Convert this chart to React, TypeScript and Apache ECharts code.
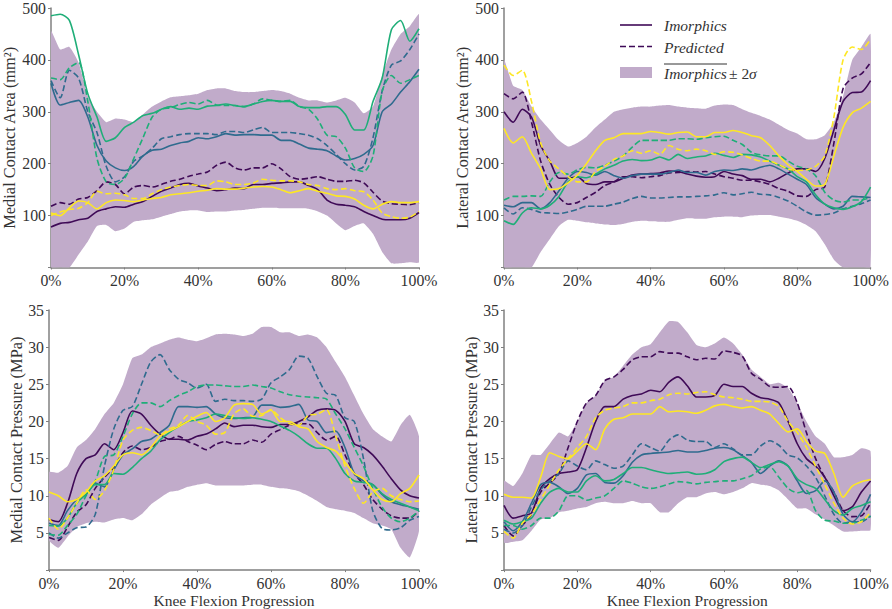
import { useEffect, useRef } from "react";
import * as echarts from "echarts";

const FONT = "Liberation Serif";
const PURPLE = "#3f0a57";
const BLUE = "#2f6b8e";
const GREEN = "#1fae78";
const YELLOW = "#fde725";
const BAND = "#c1abca";
const AXIS = "#808080";
const TEXT = "#333333";

// progress positions, every 2.5%
const progress = [0, 2.5, 5, 7.5, 10, 12.5, 15, 17.5, 20, 22.5, 25, 27.5, 30, 32.5, 35, 37.5, 40, 42.5, 45, 47.5, 50, 52.5, 55, 57.5, 60, 62.5, 65, 67.5, 70, 72.5, 75, 77.5, 80, 82.5, 85, 87.5, 90, 92.5, 95, 97.5, 100];

// medial contact area
const maUpper = [455, 420, 425, 395, 330, 300, 280, 287, 285, 280, 295, 310, 320, 328, 330, 332, 335, 342, 345, 345, 340, 338, 338, 340, 342, 340, 335, 327, 322, 322, 318, 322, 327, 318, 297, 310, 370, 420, 450, 465, 488];
const maLower = [0, 0, 0, 25, 50, 80, 82, 70, 75, 88, 91, 93, 98, 103, 108, 110, 110, 107, 108, 108, 110, 111, 113, 115, 115, 114, 114, 114, 113, 108, 100, 85, 72, 80, 85, 65, 30, 8, 8, 10, 10];
const maPurple = [78, 85, 87, 92, 95, 108, 113, 117, 116, 122, 127, 137, 147, 153, 160, 162, 157, 153, 148, 150, 153, 152, 160, 160, 162, 163, 165, 165, 158, 150, 130, 122, 120, 117, 108, 100, 93, 92, 92, 95, 106];
const maPurplePred = [118, 125, 122, 132, 135, 148, 165, 160, 142, 155, 158, 155, 160, 166, 170, 176, 180, 184, 197, 203, 192, 188, 192, 192, 200, 190, 175, 170, 172, 175, 170, 166, 166, 168, 163, 145, 128, 123, 122, 121, 125];
const maBlue = [355, 313, 318, 322, 290, 235, 205, 192, 187, 195, 215, 226, 228, 235, 240, 243, 250, 248, 252, 258, 255, 256, 256, 255, 255, 245, 245, 238, 230, 228, 225, 215, 207, 210, 218, 235, 300, 315, 338, 358, 382];
const maBluePred = [360, 327, 380, 365, 300, 260, 195, 165, 175, 205, 215, 230, 248, 252, 256, 258, 258, 258, 256, 262, 262, 260, 265, 270, 260, 260, 260, 258, 255, 248, 235, 218, 200, 188, 195, 250, 340, 390, 398, 420, 450];
const maGreen = [485, 488, 476, 410, 335, 290, 243, 250, 270, 280, 293, 297, 305, 310, 305, 307, 305, 311, 312, 315, 312, 310, 315, 320, 322, 320, 320, 310, 308, 308, 310, 310, 295, 265, 265, 320, 365, 458, 476, 436, 460];
const maGreenPred = [365, 362, 385, 395, 320, 210, 165, 160, 172, 210, 250, 290, 305, 308, 314, 318, 315, 322, 313, 312, 312, 310, 315, 325, 322, 320, 322, 310, 305, 285, 255, 252, 230, 192, 185, 215, 340, 370, 355, 362, 370];
const maYellow = [105, 100, 115, 128, 125, 113, 125, 130, 129, 127, 130, 133, 135, 140, 142, 144, 147, 149, 152, 151, 151, 153, 155, 156, 155, 150, 144, 148, 152, 147, 143, 138, 137, 132, 120, 113, 122, 127, 125, 125, 127];
const maYellowPred = [100, 107, 112, 114, 125, 147, 142, 143, 140, 133, 133, 142, 150, 155, 158, 160, 158, 158, 167, 165, 160, 160, 163, 170, 168, 167, 167, 165, 160, 158, 152, 150, 152, 148, 146, 130, 105, 98, 95, 97, 108];

// lateral contact area
const laUpper = [400, 350, 342, 310, 285, 265, 245, 233, 240, 252, 270, 285, 300, 305, 308, 310, 310, 312, 313, 310, 308, 307, 306, 312, 314, 313, 305, 298, 292, 285, 275, 265, 258, 247, 247, 255, 280, 330, 400, 425, 450];
const laLower = [0, 0, 0, 0, 30, 55, 80, 92, 90, 87, 85, 83, 82, 84, 88, 90, 89, 88, 88, 92, 95, 94, 94, 97, 98, 98, 97, 100, 101, 101, 98, 95, 90, 82, 70, 45, 15, 0, 0, 0, 0];
const laPurple = [300, 280, 305, 290, 235, 205, 172, 172, 175, 162, 160, 165, 165, 172, 178, 180, 181, 182, 186, 185, 180, 176, 174, 175, 185, 180, 177, 170, 170, 165, 172, 182, 190, 190, 185, 210, 265, 320, 337, 338, 360];
const laPurplePred = [335, 325, 338, 280, 205, 160, 135, 122, 125, 135, 145, 158, 165, 175, 175, 173, 175, 177, 182, 183, 185, 184, 185, 180, 175, 172, 168, 168, 165, 160, 152, 147, 138, 137, 150, 155, 240, 345, 365, 373, 395];
const laBlue = [120, 117, 125, 125, 113, 125, 148, 172, 185, 183, 178, 185, 177, 172, 177, 180, 180, 180, 183, 188, 183, 183, 178, 185, 188, 187, 190, 188, 193, 197, 190, 180, 170, 160, 135, 122, 113, 118, 137, 136, 135];
const laBluePred = [115, 103, 115, 112, 106, 105, 104, 107, 112, 118, 118, 118, 122, 126, 133, 137, 134, 134, 135, 136, 136, 137, 138, 140, 144, 140, 142, 145, 141, 140, 135, 128, 118, 107, 101, 102, 105, 113, 118, 123, 130];
const laGreen = [90, 83, 105, 115, 113, 120, 137, 165, 175, 173, 180, 190, 197, 205, 208, 206, 207, 213, 207, 218, 210, 213, 215, 220, 216, 212, 218, 217, 213, 205, 197, 190, 175, 165, 140, 122, 115, 112, 117, 127, 155];
const laGreenPred = [130, 137, 137, 138, 137, 165, 183, 180, 188, 193, 192, 197, 205, 215, 232, 245, 245, 245, 245, 248, 248, 247, 250, 252, 253, 245, 237, 222, 217, 215, 215, 205, 195, 190, 177, 145, 130, 126, 130, 130, 135];
const laYellow = [268, 240, 252, 220, 190, 150, 152, 163, 178, 200, 225, 245, 250, 258, 258, 258, 262, 260, 257, 260, 261, 252, 252, 260, 260, 264, 260, 254, 250, 235, 215, 198, 185, 170, 157, 160, 215, 270, 298, 307, 320];
const laYellowPred = [390, 370, 380, 320, 240, 205, 190, 175, 165, 165, 185, 195, 208, 215, 225, 220, 225, 218, 235, 228, 225, 228, 225, 218, 223, 222, 217, 210, 205, 205, 198, 190, 187, 188, 195, 215, 290, 400, 425, 420, 440];

// medial contact pressure
const mpUpper = [13.2, 13.1, 14, 16.5, 17.5, 19, 21, 22.5, 25, 28.5, 29, 30, 30.5, 31, 31.3, 31, 30.8, 31.2, 31.7, 31.8, 31.7, 31.5, 31.8, 32.7, 32.7, 32, 32, 31.5, 31.7, 31.3, 30, 28, 26, 23.5, 21, 19, 18, 17.3, 19.5, 20.9, 18];
const mpLower = [4, 3, 4.5, 5.8, 6.3, 6.5, 6.4, 6.8, 7, 6.7, 7.5, 8.8, 9.7, 10.5, 10.7, 11.2, 11.5, 11.7, 11.4, 11.4, 11.4, 11.4, 11.5, 11.5, 11.2, 11, 10.9, 10.6, 10, 9.3, 8.5, 8.2, 8, 7.7, 7, 6.3, 6, 5.5, 3, 1.7, 5.3];
const mpPurple = [6.8, 6.5, 9, 13, 15, 15.5, 17, 16.2, 18.5, 21.4, 21, 19.5, 18.3, 17.6, 17.6, 17.5, 18, 18.3, 19, 19.8, 19.3, 19.5, 19.5, 19.3, 19.2, 19.6, 19.6, 20, 20.6, 21.5, 21.7, 21.5, 20, 17, 16.5, 15.5, 14, 12.3, 10.8, 10, 9.7];
const mpPurplePred = [4.4, 4, 5.8, 7.8, 8.8, 11, 12.5, 13.8, 15.8, 16.7, 16.2, 16.5, 17.3, 17.6, 18, 17.3, 16.8, 16.2, 16.9, 17.3, 17, 17, 17.5, 17.2, 18.3, 18.9, 19.5, 19.7, 19.7, 18.5, 17.5, 18, 15.5, 13, 11.5, 9.5, 8.2, 7.3, 7, 7, 8];
const mpBlue = [6.3, 6, 8, 9.5, 10.2, 11.7, 11.2, 13.5, 15.5, 16.3, 17.3, 17.6, 18.5, 19.5, 22, 22, 21.9, 22, 21, 20.5, 20.4, 20.5, 20.6, 22.2, 22.2, 21.9, 22, 22.3, 20.2, 20, 18.5, 18.7, 16.5, 13, 12, 11.5, 10.2, 9.2, 8.8, 8.5, 8.2];
const mpBluePred = [5, 4.3, 5, 5.7, 5.8, 7.5, 14, 19, 21.5, 22, 25, 28, 29, 27, 25.7, 25.2, 24.5, 25, 22.7, 23, 22.8, 22.8, 22.7, 23, 25.2, 26, 27, 28.8, 28.5, 26, 23.8, 23.5, 20.5, 20, 15, 8, 5.6, 5.4, 5.7, 6.7, 7.2];
const mpGreen = [6, 5.9, 7, 9, 10.2, 11.5, 11.5, 13, 12.9, 13.8, 15, 16, 17.5, 18.5, 19.3, 20, 20.2, 20.5, 21, 20.8, 20.5, 20.4, 20.5, 20.3, 20, 19.4, 18.8, 18, 17, 16.4, 16.4, 15, 13, 12, 11.8, 11.5, 10.3, 9.5, 9, 8.5, 8];
const mpGreenPred = [4.8, 4.7, 6, 7.5, 10, 12, 15.3, 15.5, 18, 21, 22.5, 22.5, 22, 22.8, 23.5, 24, 24.7, 24.9, 24.9, 24.8, 24.7, 24.7, 24.9, 24.7, 24.5, 24, 23.6, 23.4, 23.3, 23.2, 23, 21, 19, 16.5, 14, 11, 8.5, 7, 6.5, 7, 8];
const mpYellow = [10.5, 10, 9.2, 9.5, 10.5, 12, 12.7, 14, 15.5, 15.8, 15.5, 16.5, 18, 18.7, 19.3, 20, 20.7, 21.2, 20, 20.5, 22.2, 22.4, 22.3, 21, 21.5, 20, 20, 19.3, 19, 17.3, 16.5, 16, 14.5, 13, 12.3, 10.8, 9.5, 9.2, 10.3, 11, 12.8];
const mpYellowPred = [7, 5.5, 7, 9, 10.8, 9.5, 10.7, 13.5, 17.5, 18.8, 19.2, 18.8, 18.2, 19, 19.5, 20.8, 20, 19.5, 18.3, 18.5, 21, 21.7, 20.7, 20.8, 21.6, 20.5, 19.7, 19.5, 20.8, 21, 21.6, 18, 14, 11, 9, 10.5, 11, 10, 9.5, 9.2, 9.3];

// lateral contact pressure
const lpUpper = [12, 11.3, 13, 15.5, 15.5, 17, 18.5, 18, 20, 22.5, 23.5, 25.5, 26, 27.5, 29, 30, 30.4, 32, 33.5, 33.4, 32, 30.3, 30, 30.5, 31.3, 30.5, 29, 27, 26, 25, 25.2, 24.5, 22.5, 20, 18, 17, 15.2, 15.2, 15.5, 16.4, 16];
const lpLower = [3.7, 3.8, 4, 5.3, 6.8, 7, 7.8, 8, 8.3, 8.5, 9, 9.2, 9, 9, 9.3, 9, 9, 7.8, 7.8, 9, 9.8, 9.8, 10.3, 10.5, 10.2, 10.5, 11, 11.7, 11.5, 11.3, 10.7, 9.5, 8.3, 8.3, 7.5, 6.8, 6, 5.2, 5.2, 5.3, 5.4];
const lpPurple = [8.7, 7, 7.3, 7.7, 11, 12.3, 13, 13.2, 13.5, 16.5, 20, 22, 22, 23, 23.5, 23.7, 24.2, 24, 25.3, 26, 24.8, 23.3, 23.3, 23.5, 25, 24.7, 24.7, 23.8, 23.2, 23, 22.5, 20, 17, 15, 14, 12.5, 10, 8, 8.5, 10.5, 12];
const lpPurplePred = [6, 4.6, 6, 7.5, 10.5, 11.7, 13, 16.5, 20, 22.5, 23.5, 25.5, 26, 27, 28.3, 28.7, 28.7, 29.4, 29.2, 29.2, 28.7, 28.3, 28.5, 28.4, 29.5, 29.3, 28.8, 26.5, 25.7, 24.7, 24.6, 24.7, 22.5, 18.5, 15, 12.5, 10.5, 8, 7.2, 7.3, 9];
const lpBlue = [6.5, 5.3, 6.5, 9, 11.5, 11.8, 11.2, 10.3, 11, 12.8, 13, 11.8, 11.7, 12.7, 14.5, 15.5, 15.7, 15.8, 15.9, 16.1, 15.9, 15.9, 16.1, 16.4, 16.5, 16.2, 15.4, 14.5, 13, 14, 14.7, 14, 12, 10.3, 10.7, 12, 10.5, 7.5, 6.5, 7.8, 10.2];
const lpBluePred = [5.5, 5, 6, 8.5, 10.8, 12, 13, 14.7, 14, 13.5, 14.7, 14.2, 13.7, 14, 15.5, 17, 16.5, 16, 17.5, 18.2, 17.5, 17.3, 17.3, 16.5, 17, 16.3, 15.5, 15.5, 16.7, 17.4, 16.8, 15.5, 15.1, 14, 12.5, 10, 7.5, 6.3, 6.5, 6.5, 7.3];
const lpGreen = [6.7, 6.2, 6.5, 7, 9, 10.5, 11, 10.5, 10.5, 12, 12.7, 12, 12.2, 13, 13.8, 13.8, 13.5, 13.2, 13, 13.1, 13.2, 12.9, 13, 13.5, 14.6, 15, 15.2, 14.5, 13.8, 14.2, 14.6, 14, 12.3, 11.5, 11, 9.5, 8, 7.4, 8.3, 8.7, 9.2];
const lpGreenPred = [6, 6, 5.5, 6, 7, 7, 8, 10, 10, 9.4, 9.7, 10, 11, 12, 11.7, 11.2, 11, 11.2, 11.6, 11.9, 11.8, 11.6, 11.8, 11.9, 12, 12, 12.3, 12.7, 13.6, 13.9, 12.5, 11, 10.4, 10.7, 8, 6.7, 6.6, 6.3, 6.3, 6.7, 7.2];
const lpYellow = [10.2, 9.8, 9.8, 9.7, 12.5, 15.8, 15.3, 15, 16, 17, 16.2, 19, 20.3, 20.5, 21, 21, 21, 22, 21.3, 21.4, 21.3, 21.1, 21.5, 22.1, 22.3, 22, 21.8, 22, 21.5, 21, 19.7, 18.6, 19, 17.3, 16, 15.7, 13, 9.8, 11.3, 11.9, 12.2];
const lpYellowPred = [5.2, 4.3, 6.3, 7.5, 9.5, 11.5, 13.5, 15, 16.5, 18, 20.5, 21.5, 21.8, 22, 22.5, 22.5, 22.8, 23, 23.6, 23.8, 23.7, 23.9, 24, 23.6, 23.3, 23.2, 23, 22.7, 22.7, 22.6, 22, 20, 18.5, 16.5, 14, 11.5, 9, 7, 6.2, 6.5, 7.8];

const panels = [
  { name: "Medial Contact Area (mm²)", max: 500, step: 100, left: 49, top: 5, gap: 34, band: [maUpper, maLower], lines: [[maPurple, maPurplePred], [maBlue, maBluePred], [maGreen, maGreenPred], [maYellow, maYellowPred]] },
  { name: "Lateral Contact Area (mm²)", max: 500, step: 100, left: 504, top: 5, gap: 34, band: [laUpper, laLower], lines: [[laPurple, laPurplePred], [laBlue, laBluePred], [laGreen, laGreenPred], [laYellow, laYellowPred]] },
  { name: "Medial Contact Pressure (MPa)", max: 35, step: 5, left: 49, top: 310, gap: 25, band: [mpUpper, mpLower], lines: [[mpPurple, mpPurplePred], [mpBlue, mpBluePred], [mpGreen, mpGreenPred], [mpYellow, mpYellowPred]] },
  { name: "Lateral Contact Pressure (MPa)", max: 35, step: 5, left: 504, top: 310, gap: 25, band: [lpUpper, lpLower], lines: [[lpPurple, lpPurplePred], [lpBlue, lpBluePred], [lpGreen, lpGreenPred], [lpYellow, lpYellowPred]] },
];

const lineColors = [PURPLE, BLUE, GREEN, YELLOW];

function toPoints(values: number[]) {
  return values.map((v, i) => [progress[i], v]);
}

function buildOption(): echarts.EChartsOption {
  const grid: any[] = [];
  const xAxis: any[] = [];
  const yAxis: any[] = [];
  const series: any[] = [];

  panels.forEach((p, idx) => {
    grid.push({ left: p.left, top: p.top, width: 370, height: 262.5 });
    xAxis.push({
      type: "value",
      gridIndex: idx,
      min: 0,
      max: 100,
      interval: 20,
      name: idx >= 2 ? "Knee Flexion Progression" : "",
      nameLocation: "middle",
      nameGap: 21,
      nameTextStyle: { fontFamily: FONT, fontSize: 15.5, color: TEXT },
      axisLine: { lineStyle: { color: AXIS, width: 1.5 } },
      axisTick: { length: 2, lineStyle: { color: AXIS } },
      axisLabel: { fontFamily: FONT, fontSize: 15.8, color: TEXT, margin: 5, formatter: "{value}%", hideOverlap: false },
      splitLine: { show: false },
    });
    yAxis.push({
      type: "value",
      gridIndex: idx,
      min: 0,
      max: p.max,
      interval: p.step,
      name: p.name,
      nameLocation: "middle",
      nameGap: p.gap,
      nameTextStyle: { fontFamily: FONT, fontSize: 16.4, color: TEXT },
      axisLine: { show: true, lineStyle: { color: AXIS, width: 1.5 } },
      axisTick: { length: 3, lineStyle: { color: AXIS } },
      axisLabel: { fontFamily: FONT, fontSize: 15.8, color: TEXT, margin: 5, formatter: (v: number) => (v === 0 ? "" : String(v)) },
      splitLine: { show: false },
    });

    const [upper, lower] = p.band;
    // shaded ±2σ band, one polygon through the axis scales
    series.push({
      type: "custom",
      xAxisIndex: idx,
      yAxisIndex: idx,
      silent: true,
      clip: true,
      encode: { x: 0, y: [1, 2] },
      data: progress.map((x, i) => [x, lower[i], upper[i]]),
      renderItem: (params: any, api: any) => {
        if (params.dataIndex !== 0) return null;
        const top = progress.map((x, i) => api.coord([x, upper[i]]));
        const bottom = progress.map((x, i) => api.coord([x, lower[i]])).reverse();
        return {
          type: "polygon",
          shape: { points: [...top, ...bottom], smooth: 0.15 },
          style: { fill: BAND },
        };
      },
    });

    p.lines.forEach(([solid, dashed], c) => {
      series.push({
        type: "line",
        xAxisIndex: idx,
        yAxisIndex: idx,
        symbol: "none",
        smooth: 0.25,
        lineStyle: { color: lineColors[c], width: 1.6, type: [6, 3] },
        data: toPoints(dashed),
      });
      series.push({
        type: "line",
        xAxisIndex: idx,
        yAxisIndex: idx,
        symbol: "none",
        smooth: 0.25,
        lineStyle: { color: lineColors[c], width: 1.6 },
        data: toPoints(solid),
      });
    });
  });

  const italic = { fontFamily: FONT, fontSize: 15.5, fontStyle: "italic", fill: TEXT };
  return {
    animation: false,
    grid,
    xAxis,
    yAxis,
    series,
    graphic: [
      { type: "line", shape: { x1: 620, y1: 25, x2: 652, y2: 25 }, style: { stroke: PURPLE, lineWidth: 1.6 }, z: 10 },
      { type: "line", shape: { x1: 620, y1: 46.5, x2: 652, y2: 46.5 }, style: { stroke: PURPLE, lineWidth: 1.6, lineDash: [6, 3] }, z: 10 },
      { type: "rect", shape: { x: 620, y: 67, width: 32, height: 11 }, style: { fill: BAND }, z: 10 },
      { type: "text", x: 664, y: 25, style: { ...italic, text: "Imorphics", textVerticalAlign: "middle" }, z: 10 },
      { type: "text", x: 664, y: 47, style: { ...italic, text: "Predicted", textVerticalAlign: "middle" }, z: 10 },
      { type: "text", x: 664, y: 73, style: { ...italic, text: "Imorphics", textVerticalAlign: "middle" }, z: 10 },
      { type: "line", shape: { x1: 664, y1: 64, x2: 727, y2: 64 }, style: { stroke: TEXT, lineWidth: 1 }, z: 10 },
      { type: "text", x: 729, y: 73, style: { fontFamily: FONT, fontSize: 15.5, fill: TEXT, text: "± 2", textVerticalAlign: "middle" }, z: 10 },
      { type: "text", x: 749, y: 73, style: { ...italic, text: "σ", textVerticalAlign: "middle" }, z: 10 },
    ],
  };
}

export default function App() {
  const chartRef = useRef<HTMLDivElement>(null);

  useEffect(() => {
    if (!chartRef.current) return;
    const chart = echarts.init(chartRef.current, undefined, { renderer: "svg" });
    chart.setOption(buildOption());
    return () => {
      chart.dispose();
    };
  }, []);

  return <div ref={chartRef} style={{ position: "absolute", left: 0, top: 0, width: 892, height: 609 }} />;
}
